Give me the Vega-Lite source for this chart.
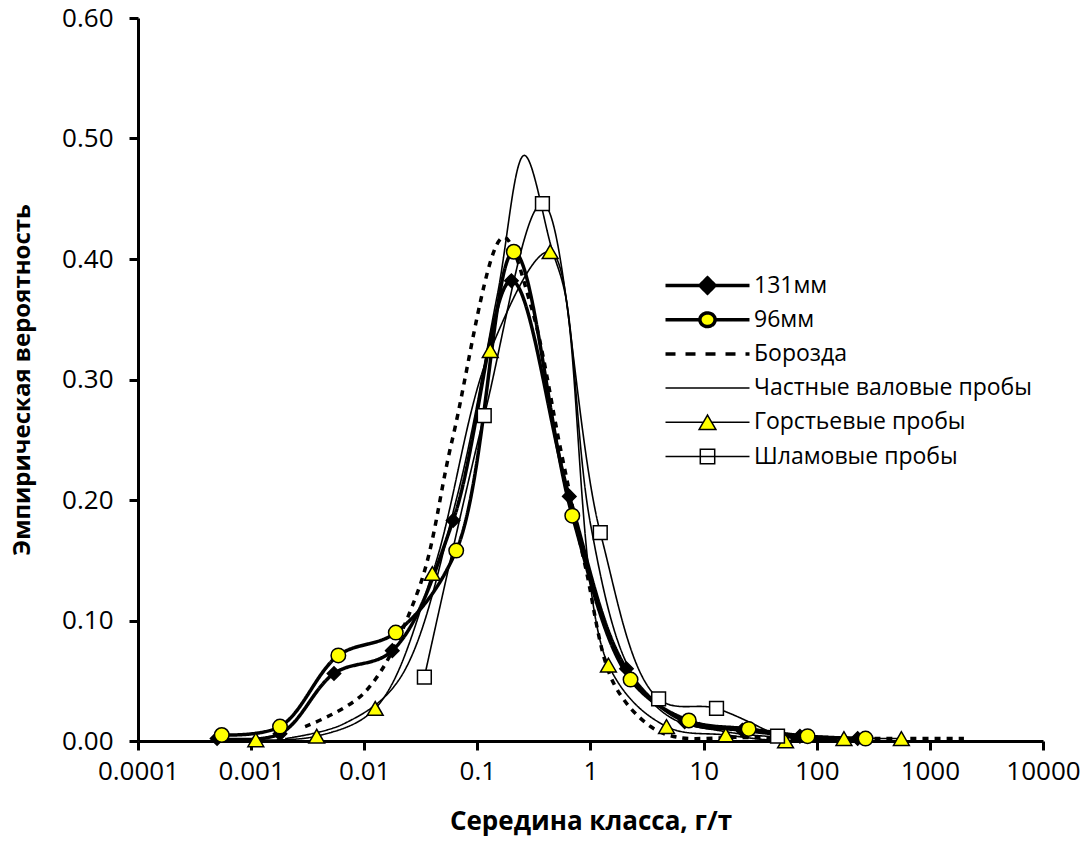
{
  "$schema": "https://vega.github.io/schema/vega-lite/v6.json",
  "width": 905,
  "height": 723,
  "autosize": {"type": "none"},
  "padding": {"left": 138, "top": 18, "right": 48, "bottom": 113},
  "background": "white",
  "config": {
    "view": {"stroke": null},
    "axis": {
      "domainColor": "black", "domainWidth": 3, "tickColor": "black", "tickWidth": 3, "tickSize": 9,
      "labelFont": "Open Sans", "labelFontSize": 26, "labelColor": "black",
      "titleFont": "Open Sans", "titleFontSize": 24, "titleFontWeight": "bold", "titleColor": "black",
      "grid": false
    },
    "legend": {
      "orient": "none", "legendX": 526, "legendY": 256, "title": null, "padding": 0,
      "symbolSize": 256, "symbolOpacity": 1, "symbolStrokeColor": "black", "symbolFillColor": "white",
      "labelFont": "Open Sans", "labelFontSize": 23, "labelColor": "black", "labelOffset": 67,
      "rowPadding": 4.2, "gridAlign": "all", "labelLimit": 400
    }
  },
  "data": {"values": [
    {"s": "131мм", "x": 0.0005, "y": 0.002},
    {"s": "131мм", "x": 0.0018, "y": 0.006},
    {"s": "131мм", "x": 0.0054, "y": 0.056},
    {"s": "131мм", "x": 0.0177, "y": 0.075},
    {"s": "131мм", "x": 0.061, "y": 0.183},
    {"s": "131мм", "x": 0.2, "y": 0.382},
    {"s": "131мм", "x": 0.65, "y": 0.203},
    {"s": "131мм", "x": 2.08, "y": 0.060},
    {"s": "131мм", "x": 6.8, "y": 0.016},
    {"s": "131мм", "x": 22, "y": 0.009},
    {"s": "131мм", "x": 71, "y": 0.004},
    {"s": "131мм", "x": 230, "y": 0.002},
    {"s": "96мм", "x": 0.00055, "y": 0.005},
    {"s": "96мм", "x": 0.0018, "y": 0.012},
    {"s": "96мм", "x": 0.0059, "y": 0.071},
    {"s": "96мм", "x": 0.019, "y": 0.090},
    {"s": "96мм", "x": 0.065, "y": 0.158},
    {"s": "96мм", "x": 0.21, "y": 0.406},
    {"s": "96мм", "x": 0.69, "y": 0.187},
    {"s": "96мм", "x": 2.26, "y": 0.051},
    {"s": "96мм", "x": 7.4, "y": 0.017},
    {"s": "96мм", "x": 25, "y": 0.010},
    {"s": "96мм", "x": 83, "y": 0.004},
    {"s": "96мм", "x": 270, "y": 0.002},
    {"s": "Борозда", "x": 0.003, "y": 0.012},
    {"s": "Борозда", "x": 0.01, "y": 0.04},
    {"s": "Борозда", "x": 0.03, "y": 0.125},
    {"s": "Борозда", "x": 0.06, "y": 0.25},
    {"s": "Борозда", "x": 0.17, "y": 0.418},
    {"s": "Борозда", "x": 0.3, "y": 0.36},
    {"s": "Борозда", "x": 0.55, "y": 0.24},
    {"s": "Борозда", "x": 0.9, "y": 0.145},
    {"s": "Борозда", "x": 1.6, "y": 0.048},
    {"s": "Борозда", "x": 3.4, "y": 0.012},
    {"s": "Борозда", "x": 6, "y": 0.003},
    {"s": "Борозда", "x": 20, "y": 0.003},
    {"s": "Борозда", "x": 60, "y": 0.002},
    {"s": "Борозда", "x": 200, "y": 0.002},
    {"s": "Борозда", "x": 600, "y": 0.002},
    {"s": "Борозда", "x": 2000, "y": 0.002},
    {"s": "Частные валовые пробы", "x": 0.002, "y": 0.002},
    {"s": "Частные валовые пробы", "x": 0.0065, "y": 0.014},
    {"s": "Частные валовые пробы", "x": 0.02, "y": 0.05},
    {"s": "Частные валовые пробы", "x": 0.065, "y": 0.2},
    {"s": "Частные валовые пробы", "x": 0.15, "y": 0.37},
    {"s": "Частные валовые пробы", "x": 0.26, "y": 0.486},
    {"s": "Частные валовые пробы", "x": 0.45, "y": 0.41},
    {"s": "Частные валовые пробы", "x": 0.6, "y": 0.37},
    {"s": "Частные валовые пробы", "x": 1.0, "y": 0.18},
    {"s": "Частные валовые пробы", "x": 2.2, "y": 0.06},
    {"s": "Частные валовые пробы", "x": 5, "y": 0.02},
    {"s": "Частные валовые пробы", "x": 15, "y": 0.008},
    {"s": "Частные валовые пробы", "x": 50, "y": 0.003},
    {"s": "Частные валовые пробы", "x": 150, "y": 0.001},
    {"s": "Горстьевые пробы", "x": 0.0011, "y": 0.001},
    {"s": "Горстьевые пробы", "x": 0.0038, "y": 0.004},
    {"s": "Горстьевые пробы", "x": 0.0125, "y": 0.027},
    {"s": "Горстьевые пробы", "x": 0.04, "y": 0.139},
    {"s": "Горстьевые пробы", "x": 0.13, "y": 0.324},
    {"s": "Горстьевые пробы", "x": 0.44, "y": 0.406},
    {"s": "Горстьевые пробы", "x": 1.44, "y": 0.063},
    {"s": "Горстьевые пробы", "x": 4.7, "y": 0.012},
    {"s": "Горстьевые пробы", "x": 15.7, "y": 0.005},
    {"s": "Горстьевые пробы", "x": 53, "y": 0.0},
    {"s": "Горстьевые пробы", "x": 174, "y": 0.002},
    {"s": "Горстьевые пробы", "x": 560, "y": 0.002},
    {"s": "Шламовые пробы", "x": 0.034, "y": 0.053},
    {"s": "Шламовые пробы", "x": 0.115, "y": 0.270},
    {"s": "Шламовые пробы", "x": 0.376, "y": 0.446},
    {"s": "Шламовые пробы", "x": 1.22, "y": 0.173},
    {"s": "Шламовые пробы", "x": 4.0, "y": 0.035},
    {"s": "Шламовые пробы", "x": 13, "y": 0.027},
    {"s": "Шламовые пробы", "x": 45, "y": 0.004}
  ]},
  "encoding": {
    "x": {
      "field": "x", "type": "quantitative",
      "scale": {"type": "log", "domain": [0.0001, 10000], "nice": false},
      "axis": {
        "values": [0.0001, 0.001, 0.01, 0.1, 1, 10, 100, 1000, 10000],
        "labelExpr": "format(datum.value, '~f')",
        "labelPadding": 8, "labelFlush": false, "labelOverlap": false,
        "title": "Середина класса, г/т", "titlePadding": 24, "titleFontSize": 26
      }
    },
    "y": {
      "field": "y", "type": "quantitative",
      "scale": {"domain": [0, 0.6], "nice": false},
      "axis": {
        "values": [0, 0.1, 0.2, 0.3, 0.4, 0.5, 0.6],
        "format": ".2f", "labelPadding": 16,
        "title": "Эмпирическая вероятность", "titlePadding": 27
      }
    }
  },
  "layer": [
    {
      "mark": {"type": "line", "interpolate": "catmull-rom", "color": "black"},
      "encoding": {
        "detail": {"field": "s"},
        "strokeWidth": {
          "field": "s", "type": "nominal", "legend": null,
          "scale": {
            "type": "ordinal",
            "domain": ["131мм", "96мм", "Борозда", "Частные валовые пробы", "Горстьевые пробы", "Шламовые пробы"],
            "range": [3.5, 3.5, 3.5, 1.6, 1.6, 1.6]
          }
        },
        "strokeDash": {
          "field": "s", "type": "nominal", "legend": null,
          "scale": {
            "domain": ["131мм", "96мм", "Борозда", "Частные валовые пробы", "Горстьевые пробы", "Шламовые пробы"],
            "range": [[1, 0], [1, 0], [6, 6], [1, 0], [1, 0], [1, 0]]
          }
        }
      }
    },
    {
      "transform": [{"filter": {"field": "s", "oneOf": ["131мм", "96мм", "Горстьевые пробы", "Шламовые пробы"]}}],
      "mark": {"type": "point", "filled": true, "stroke": "black", "strokeWidth": 1.5, "opacity": 1},
      "encoding": {
        "shape": {
          "field": "s", "type": "nominal", "legend": null,
          "scale": {"domain": ["131мм", "96мм", "Горстьевые пробы", "Шламовые пробы"], "range": ["diamond", "circle", "triangle-up", "square"]}
        },
        "fill": {
          "field": "s", "type": "nominal", "legend": null,
          "scale": {"domain": ["131мм", "96мм", "Горстьевые пробы", "Шламовые пробы"], "range": ["black", "#ffff00", "#ffff00", "white"]}
        },
        "size": {
          "field": "s", "type": "nominal", "legend": null,
          "scale": {"type": "ordinal", "domain": ["131мм", "96мм", "Горстьевые пробы", "Шламовые пробы"], "range": [180, 210, 250, 190]}
        }
      }
    },
    {
      "mark": {"type": "point", "filled": true, "stroke": "black", "opacity": 0},
      "encoding": {
        "shape": {
          "field": "s", "type": "nominal",
          "scale": {
            "domain": ["131мм", "96мм", "Борозда", "Частные валовые пробы", "Горстьевые пробы", "Шламовые пробы"],
            "range": [
              "M-1.25,0L9.25,0M4,-0.95L4.95,0L4,0.95L3.05,0Z",
              "M-1.25,0L3.05,0M4.95,0L9.25,0M3.05,0A0.95,0.85,0,1,1,4.95,0A0.95,0.85,0,1,1,3.05,0Z",
              "M-1.25,0L9.25,0",
              "M-1.25,0L9.25,0",
              "M-1.25,0L3.55,0M4.45,0L9.25,0M4,-0.9L5.05,0.9L2.95,0.9Z",
              "M-1.25,0L9.25,0M3.1,-0.9L4.9,-0.9L4.9,0.9L3.1,0.9Z"
            ]
          },
          "legend": {"title": null}
        },
        "fill": {
          "field": "s", "type": "nominal",
          "scale": {
            "domain": ["131мм", "96мм", "Борозда", "Частные валовые пробы", "Горстьевые пробы", "Шламовые пробы"],
            "range": ["black", "#ffff00", "white", "white", "#ffff00", "white"]
          },
          "legend": {"title": null}
        },
        "strokeWidth": {
          "field": "s", "type": "nominal",
          "scale": {
            "type": "ordinal",
            "domain": ["131мм", "96мм", "Борозда", "Частные валовые пробы", "Горстьевые пробы", "Шламовые пробы"],
            "range": [3.5, 3.5, 3.5, 1.5, 1.5, 1.5]
          },
          "legend": {"title": null}
        },
        "strokeDash": {
          "field": "s", "type": "nominal",
          "scale": {
            "domain": ["131мм", "96мм", "Борозда", "Частные валовые пробы", "Горстьевые пробы", "Шламовые пробы"],
            "range": [[1, 0], [1, 0], [10, 10], [1, 0], [1, 0], [1, 0]]
          },
          "legend": {"title": null}
        }
      }
    }
  ],
  "resolve": {"scale": {"shape": "independent", "size": "independent", "fill": "independent", "strokeWidth": "independent", "strokeDash": "independent"}}
}
